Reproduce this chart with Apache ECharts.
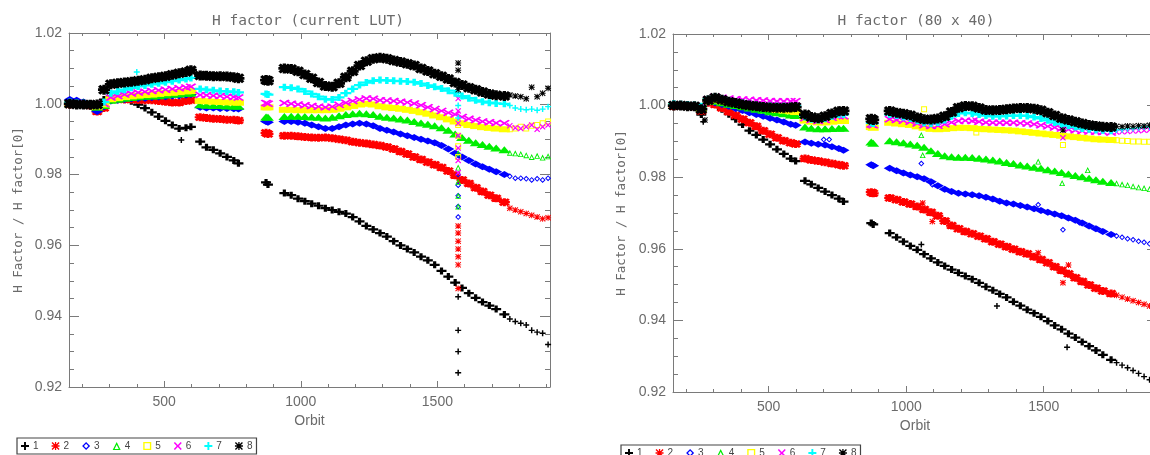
<!DOCTYPE html>
<html>
<head>
<meta charset="utf-8">
<script src="https://cdn.jsdelivr.net/npm/echarts@6/dist/echarts.min.js"></script>
<style>
  html, body { margin: 0; padding: 0; background: #ffffff; }
  #chart { width: 1150px; height: 455px; }
</style>
</head>
<body>
<div id="chart"></div>
<script>
// Orbits at which the H factor ratio was evaluated (shared by all eight series)
const orbits = [
  155, 180, 205, 230, 255, 280, 305, 330, 355, 380, 405, 430, 455, 480, 505, 530, 555, 580, 598,
  632, 655, 680, 705, 730, 755, 772,
  873, 880,
  940, 965, 990, 1015, 1040, 1065, 1090, 1115, 1140, 1165, 1190, 1215, 1240, 1265, 1290, 1315, 1340,
  1365, 1390, 1415, 1440, 1465, 1490, 1515, 1540, 1565, 1590, 1615, 1640, 1665, 1690, 1715, 1745,
  1765, 1785, 1805, 1825, 1845, 1865, 1885, 1905
];
// Orbits after this value are only sampled occasionally
const sparseAfter = 1750;

const seriesNames = ['1', '2', '3', '4', '5', '6', '7', '8'];

// ---- H factor / H factor[0], current LUT ----
const cur1 = [
  1.0000, 1.0000, 0.9998, 0.9997, 0.9980, 1.0012, 1.0020, 1.0018, 1.0015, 1.0007, 0.9998, 0.9988, 0.9976, 0.9964, 0.9952, 0.9940, 0.9930, 0.9932, 0.9935,
  0.9893, 0.9877, 0.9870, 0.9860, 0.9850, 0.9840, 0.9832,
  0.9778, 0.9772,
  0.9748, 0.9742, 0.9732, 0.9725, 0.9718, 0.9712, 0.9705, 0.9700, 0.9695, 0.9690, 0.9680, 0.9668, 0.9655, 0.9645, 0.9635, 0.9625, 0.9612,
  0.9600, 0.9590, 0.9580, 0.9568, 0.9558, 0.9545, 0.9528, 0.9512, 0.9495, 0.9480, 0.9465, 0.9452, 0.9440, 0.9430, 0.9420, 0.9405,
  0.9392, 0.9385, 0.9380, 0.9375, 0.9360, 0.9355, 0.9352, 0.9320
];
const cur2 = [
  0.9998, 1.0000, 1.0000, 0.9995, 0.9978, 0.9988, 1.0012, 1.0013, 1.0012, 1.0012, 1.0011, 1.0010, 1.0010, 1.0008, 1.0006, 1.0004, 1.0004, 1.0008, 1.0010,
  0.9962, 0.9960, 0.9958, 0.9957, 0.9955, 0.9955, 0.9953,
  0.9918, 0.9915,
  0.9910, 0.9910, 0.9908, 0.9906, 0.9905, 0.9904, 0.9905, 0.9903, 0.9900, 0.9897, 0.9893, 0.9890, 0.9888, 0.9885, 0.9882, 0.9878, 0.9872,
  0.9865, 0.9858, 0.9850, 0.9843, 0.9835, 0.9828, 0.9820, 0.9810, 0.9798, 0.9785, 0.9775, 0.9763, 0.9752, 0.9742, 0.9733, 0.9722,
  0.9705, 0.9700, 0.9695, 0.9690, 0.9685, 0.9680, 0.9675, 0.9678
];
const cur3 = [
  1.0012, 1.0010, 1.0005, 1.0000, 0.9978, 0.9992, 1.0008, 1.0010, 1.0012, 1.0014, 1.0015, 1.0016, 1.0018, 1.0019, 1.0020, 1.0022, 1.0023, 1.0025, 1.0026,
  0.9990, 0.9988, 0.9988, 0.9987, 0.9987, 0.9986, 0.9985,
  0.9950, 0.9948,
  0.9950, 0.9950, 0.9948, 0.9945, 0.9940, 0.9935, 0.9930, 0.9930, 0.9935, 0.9940, 0.9943, 0.9945, 0.9943, 0.9938, 0.9930, 0.9925, 0.9920,
  0.9915, 0.9910, 0.9905, 0.9900, 0.9895, 0.9890, 0.9882, 0.9872, 0.9860, 0.9850, 0.9840, 0.9830, 0.9822, 0.9815, 0.9808, 0.9800,
  0.9795, 0.9790, 0.9790, 0.9788, 0.9785, 0.9788, 0.9785, 0.9790
];
const cur4 = [
  1.0000, 1.0002, 1.0000, 0.9998, 0.9990, 0.9995, 1.0010, 1.0013, 1.0016, 1.0018, 1.0020, 1.0021, 1.0022, 1.0023, 1.0025, 1.0027, 1.0028, 1.0030, 1.0030,
  0.9997, 0.9996, 0.9995, 0.9995, 0.9994, 0.9994, 0.9993,
  0.9963, 0.9962,
  0.9964, 0.9965, 0.9965, 0.9964, 0.9963, 0.9962, 0.9960, 0.9962, 0.9966, 0.9970, 0.9972, 0.9973, 0.9972, 0.9970, 0.9965, 0.9962, 0.9960,
  0.9957, 0.9954, 0.9950, 0.9946, 0.9942, 0.9938, 0.9932, 0.9925, 0.9915, 0.9905, 0.9897, 0.9890, 0.9885, 0.9880, 0.9875, 0.9870,
  0.9862, 0.9860, 0.9858, 0.9855, 0.9850, 0.9853, 0.9848, 0.9852
];
const cur5 = [
  1.0000, 1.0000, 1.0000, 0.9998, 0.9992, 0.9998, 1.0013, 1.0016, 1.0019, 1.0021, 1.0023, 1.0025, 1.0026, 1.0028, 1.0030, 1.0031, 1.0033, 1.0035, 1.0036,
  1.0008, 1.0007, 1.0006, 1.0005, 1.0004, 1.0004, 1.0003,
  0.9990, 0.9990,
  0.9983, 0.9983, 0.9982, 0.9982, 0.9982, 0.9982, 0.9982, 0.9983, 0.9986, 0.9990, 0.9994, 0.9998, 1.0000, 0.9998, 0.9993, 0.9990, 0.9988,
  0.9986, 0.9983, 0.9980, 0.9976, 0.9972, 0.9967, 0.9962, 0.9956, 0.9950, 0.9945, 0.9940, 0.9937, 0.9934, 0.9932, 0.9930, 0.9928,
  0.9928, 0.9930, 0.9935, 0.9930, 0.9938, 0.9940, 0.9945, 0.9950
];
const cur6 = [
  1.0000, 1.0002, 1.0000, 0.9998, 0.9995, 1.0000, 1.0018, 1.0022, 1.0026, 1.0029, 1.0032, 1.0034, 1.0036, 1.0038, 1.0040, 1.0042, 1.0044, 1.0046, 1.0048,
  1.0025, 1.0024, 1.0023, 1.0022, 1.0020, 1.0019, 1.0018,
  1.0002, 1.0000,
  1.0002, 1.0000, 0.9998, 0.9996, 0.9994, 0.9992, 0.9990, 0.9992, 0.9997, 1.0003, 1.0008, 1.0012, 1.0015, 1.0014, 1.0010, 1.0009, 1.0008,
  1.0006, 1.0004, 1.0001, 0.9996, 0.9990, 0.9985, 0.9980, 0.9975, 0.9970, 0.9963, 0.9958, 0.9954, 0.9950, 0.9948, 0.9946, 0.9945,
  0.9938, 0.9932, 0.9930, 0.9935, 0.9940, 0.9928, 0.9935, 0.9940
];
const cur7 = [
  1.0005, 1.0003, 1.0002, 1.0000, 0.9995, 1.0005, 1.0030, 1.0035, 1.0040, 1.0045, 1.0049, 1.0052, 1.0055, 1.0058, 1.0061, 1.0064, 1.0067, 1.0070, 1.0073,
  1.0042, 1.0040, 1.0038, 1.0036, 1.0035, 1.0034, 1.0032,
  1.0028, 1.0026,
  1.0047, 1.0045, 1.0042, 1.0035, 1.0028, 1.0020, 1.0013, 1.0012, 1.0018, 1.0030, 1.0042, 1.0053, 1.0060, 1.0065, 1.0067, 1.0066, 1.0065,
  1.0064, 1.0063, 1.0061, 1.0057, 1.0052, 1.0048, 1.0043, 1.0037, 1.0030, 1.0022, 1.0016, 1.0010, 1.0006, 1.0003, 1.0001, 1.0000,
  0.9995, 0.9988, 0.9985, 0.9983, 0.9985, 0.9982, 0.9985, 0.9992
];
const cur8 = [
  1.0000, 0.9998, 0.9998, 0.9997, 0.9998, 1.0040, 1.0055, 1.0058, 1.0060, 1.0062, 1.0065, 1.0068, 1.0072, 1.0075, 1.0078, 1.0082, 1.0086, 1.0090, 1.0095,
  1.0080, 1.0079, 1.0078, 1.0078, 1.0077, 1.0075, 1.0072,
  1.0067, 1.0065,
  1.0100, 1.0098, 1.0092, 1.0083, 1.0072, 1.0060, 1.0050, 1.0048, 1.0058, 1.0075, 1.0092, 1.0108, 1.0120, 1.0127, 1.0130, 1.0127, 1.0122,
  1.0118, 1.0113, 1.0108, 1.0100, 1.0093, 1.0085, 1.0078, 1.0070, 1.0060, 1.0053, 1.0045, 1.0040, 1.0033, 1.0028, 1.0024, 1.0022,
  1.0025, 1.0022, 1.0020, 1.0014, 1.0047, 1.0020, 1.0030, 1.0044
];
// Isolated records [orbit, ratio], current LUT
const curExtra1 = [[563, 0.9898], [1576, 0.9455], [1576, 0.9360], [1576, 0.9300], [1576, 0.9240]];
const curExtra2 = [[1576, 0.9655], [1576, 0.9635], [1576, 0.9612], [1576, 0.9590], [1576, 0.9568], [1576, 0.9545], [1576, 0.9478]];
const curExtra3 = [[1576, 0.9800], [1576, 0.9770], [1576, 0.9740], [1576, 0.9710], [1576, 0.9680]];
const curExtra4 = [[1576, 0.9860], [1576, 0.9820], [1576, 0.9780], [1576, 0.9740], [1576, 0.9710]];
const curExtra5 = [[1576, 0.9940], [1576, 0.9910], [1576, 0.9880], [1576, 0.9850]];
const curExtra6 = [[1576, 1.0015], [1576, 0.9980], [1576, 0.9945], [1576, 0.9910], [1576, 0.9875], [1576, 0.9840], [1576, 0.9805]];
const curExtra7 = [[400, 1.0090], [1576, 1.0030], [1576, 0.9995], [1576, 0.9960]];
const curExtra8 = [[1576, 1.0115], [1576, 1.0095], [1576, 1.0040]];

// ---- H factor / H factor[0], 80 x 40 ----
const g80_1 = [
  1.0000, 1.0000, 0.9998, 0.9995, 0.9975, 1.0012, 1.0005, 0.9990, 0.9976, 0.9962, 0.9947, 0.9930, 0.9918, 0.9905, 0.9892, 0.9878, 0.9865, 0.9852, 0.9845,
  0.9790, 0.9780, 0.9770, 0.9760, 0.9750, 0.9740, 0.9732,
  0.9672, 0.9668,
  0.9644, 0.9632, 0.9620, 0.9608, 0.9597, 0.9585, 0.9573, 0.9562, 0.9552, 0.9542, 0.9533, 0.9524, 0.9515, 0.9505, 0.9494, 0.9484, 0.9474,
  0.9464, 0.9452, 0.9441, 0.9430, 0.9420, 0.9410, 0.9398, 0.9386, 0.9375, 0.9363, 0.9352, 0.9340, 0.9328, 0.9316, 0.9304, 0.9290,
  0.9282, 0.9275, 0.9268, 0.9260, 0.9252, 0.9243, 0.9234, 0.9225
];
const g80_2 = [
  0.9998, 1.0000, 0.9998, 0.9996, 0.9985, 1.0008, 1.0003, 0.9993, 0.9983, 0.9973, 0.9962, 0.9952, 0.9942, 0.9930, 0.9920, 0.9910, 0.9902, 0.9896, 0.9893,
  0.9852, 0.9848, 0.9845, 0.9842, 0.9838, 0.9835, 0.9832,
  0.9758, 0.9755,
  0.9742, 0.9737, 0.9731, 0.9725, 0.9718, 0.9710, 0.9702, 0.9692, 0.9678, 0.9665, 0.9656, 0.9648, 0.9642, 0.9635, 0.9628, 0.9620, 0.9613,
  0.9606, 0.9599, 0.9592, 0.9586, 0.9578, 0.9570, 0.9561, 0.9550, 0.9540, 0.9530, 0.9519, 0.9509, 0.9499, 0.9490, 0.9482, 0.9475,
  0.9470, 0.9465, 0.9460, 0.9455, 0.9450, 0.9445, 0.9440, 0.9435
];
const g80_3 = [
  1.0000, 1.0002, 1.0000, 0.9998, 0.9990, 1.0010, 1.0008, 1.0003, 0.9998, 0.9992, 0.9986, 0.9980, 0.9975, 0.9970, 0.9965, 0.9960, 0.9954, 0.9948, 0.9945,
  0.9898, 0.9895, 0.9892, 0.9890, 0.9885, 0.9880, 0.9875,
  0.9835, 0.9832,
  0.9825, 0.9818, 0.9812, 0.9806, 0.9801, 0.9796, 0.9787, 0.9776, 0.9766, 0.9760, 0.9755, 0.9753, 0.9751, 0.9748, 0.9744, 0.9739, 0.9733,
  0.9728, 0.9725, 0.9721, 0.9717, 0.9712, 0.9707, 0.9702, 0.9697, 0.9692, 0.9686, 0.9680, 0.9672, 0.9664, 0.9656, 0.9648, 0.9640,
  0.9636, 0.9632, 0.9628, 0.9625, 0.9621, 0.9618, 0.9614, 0.9610
];
const g80_4 = [
  1.0000, 1.0000, 1.0000, 0.9998, 0.9993, 1.0012, 1.0012, 1.0008, 1.0004, 1.0000, 0.9997, 0.9993, 0.9990, 0.9987, 0.9983, 0.9980, 0.9977, 0.9974, 0.9972,
  0.9940, 0.9937, 0.9935, 0.9935, 0.9936, 0.9937, 0.9937,
  0.9898, 0.9895,
  0.9902, 0.9899, 0.9896, 0.9893, 0.9889, 0.9884, 0.9874, 0.9866, 0.9860, 0.9857, 0.9856, 0.9856, 0.9855, 0.9853, 0.9851, 0.9848, 0.9845,
  0.9841, 0.9838, 0.9834, 0.9831, 0.9828, 0.9825, 0.9821, 0.9817, 0.9813, 0.9809, 0.9805, 0.9801, 0.9797, 0.9793, 0.9789, 0.9785,
  0.9783, 0.9780, 0.9778, 0.9775, 0.9772, 0.9770, 0.9767, 0.9764
];
const g80_5 = [
  1.0000, 1.0000, 1.0000, 0.9998, 0.9995, 1.0012, 1.0015, 1.0012, 1.0009, 1.0006, 1.0003, 1.0000, 0.9997, 0.9994, 0.9991, 0.9988, 0.9986, 0.9984, 0.9982,
  0.9958, 0.9955, 0.9953, 0.9953, 0.9955, 0.9957, 0.9957,
  0.9940, 0.9938,
  0.9952, 0.9950, 0.9948, 0.9946, 0.9942, 0.9938, 0.9935, 0.9934, 0.9935, 0.9937, 0.9938, 0.9938, 0.9937, 0.9935, 0.9934, 0.9933, 0.9932,
  0.9931, 0.9930, 0.9928, 0.9926, 0.9924, 0.9922, 0.9920, 0.9918, 0.9916, 0.9914, 0.9912, 0.9910, 0.9908, 0.9906, 0.9905, 0.9904,
  0.9903, 0.9902, 0.9901, 0.9900, 0.9900, 0.9899, 0.9899, 0.9898
];
const g80_6 = [
  1.0002, 1.0002, 1.0001, 1.0000, 0.9998, 1.0018, 1.0025, 1.0022, 1.0020, 1.0018, 1.0017, 1.0016, 1.0015, 1.0014, 1.0013, 1.0012, 1.0012, 1.0012, 1.0012,
  0.9965, 0.9960, 0.9957, 0.9960, 0.9966, 0.9970, 0.9970,
  0.9947, 0.9945,
  0.9962, 0.9960, 0.9958, 0.9955, 0.9950, 0.9945, 0.9943, 0.9944, 0.9948, 0.9953, 0.9957, 0.9958, 0.9957, 0.9955, 0.9953, 0.9952, 0.9952,
  0.9952, 0.9952, 0.9951, 0.9950, 0.9948, 0.9945, 0.9942, 0.9939, 0.9936, 0.9933, 0.9931, 0.9929, 0.9928, 0.9927, 0.9926, 0.9925,
  0.9926, 0.9927, 0.9928, 0.9929, 0.9930, 0.9931, 0.9932, 0.9933
];
const g80_7 = [
  1.0005, 1.0004, 1.0003, 1.0002, 0.9998, 1.0018, 1.0024, 1.0019, 1.0014, 1.0010, 1.0007, 1.0004, 1.0002, 1.0000, 0.9999, 0.9998, 0.9998, 0.9998, 0.9999,
  0.9968, 0.9962, 0.9960, 0.9963, 0.9970, 0.9975, 0.9975,
  0.9952, 0.9950,
  0.9975, 0.9972, 0.9968, 0.9964, 0.9958, 0.9952, 0.9950, 0.9953, 0.9960, 0.9970, 0.9978, 0.9980, 0.9978, 0.9975, 0.9972, 0.9970, 0.9970,
  0.9971, 0.9972, 0.9972, 0.9971, 0.9968, 0.9964, 0.9959, 0.9953, 0.9948, 0.9944, 0.9940, 0.9936, 0.9934, 0.9932, 0.9931, 0.9930,
  0.9932, 0.9933, 0.9935, 0.9936, 0.9938, 0.9940, 0.9941, 0.9943
];
const g80_8 = [
  1.0000, 1.0000, 0.9998, 0.9998, 0.9990, 1.0015, 1.0022, 1.0016, 1.0011, 1.0007, 1.0003, 1.0000, 0.9998, 0.9996, 0.9995, 0.9994, 0.9994, 0.9995, 0.9996,
  0.9975, 0.9968, 0.9965, 0.9970, 0.9978, 0.9984, 0.9985,
  0.9963, 0.9960,
  0.9985, 0.9980, 0.9977, 0.9973, 0.9967, 0.9962, 0.9961, 0.9964, 0.9970, 0.9982, 0.9994, 0.9999, 0.9998, 0.9993, 0.9988, 0.9987, 0.9988,
  0.9990, 0.9992, 0.9993, 0.9993, 0.9991, 0.9987, 0.9980, 0.9972, 0.9965, 0.9960, 0.9955, 0.9950, 0.9946, 0.9943, 0.9941, 0.9940,
  0.9942, 0.9941, 0.9943, 0.9942, 0.9944, 0.9943, 0.9945, 0.9946
];
// Isolated records [orbit, ratio], 80 x 40
const g80Extra1 = [[262, 0.9955], [1055, 0.9612], [1330, 0.9440], [1585, 0.9325]];
const g80Extra2 = [[1060, 0.9728], [1095, 0.9676], [1480, 0.9589], [1570, 0.9505], [1590, 0.9555]];
const g80Extra3 = [[700, 0.9905], [720, 0.9905], [1055, 0.9838], [1095, 0.9779], [1480, 0.9723], [1570, 0.9653], [1630, 0.9673]];
const g80Extra4 = [[1055, 0.9918], [1060, 0.9862], [1480, 0.9844], [1567, 0.9784], [1660, 0.9820]];
const g80Extra5 = [[1065, 0.9990], [1255, 0.9925], [1570, 0.9890]];
const g80Extra6 = [[1250, 0.9960], [1570, 0.9910]];
const g80Extra7 = [[1250, 0.9985]];
const g80Extra8 = [[268, 0.9960], [1570, 0.9932]];

// Axis ranges and tick positions
const xRange = [152, 1912];
const yRange = [0.92, 1.02];
const xMajorTicks = [500, 1000, 1500];
const xMinorTicks = [200, 300, 400, 600, 700, 800, 900, 1100, 1200, 1300, 1400, 1600, 1700, 1800, 1900];
const yMajorTicks = [0.92, 0.94, 0.96, 0.98, 1.00, 1.02];
const yMinorTicks = [0.925, 0.93, 0.935, 0.945, 0.95, 0.955, 0.965, 0.97, 0.975, 0.985, 0.99, 0.995, 1.005, 1.01, 1.015];

const titles = ['H factor (current LUT)', 'H factor (80 x 40)'];
const yTitle = 'H Factor / H factor[0]';
const xTitle = 'Orbit';

// ---- marker shapes (10 x 10 boxes) ----
const PLUS = 'path://M3.8,0L6.2,0L6.2,3.8L10,3.8L10,6.2L6.2,6.2L6.2,10L3.8,10L3.8,6.2L0,6.2L0,3.8L3.8,3.8Z';
const PLUS_BOLD = 'path://M3.4,0L6.6,0L6.6,3.4L10,3.4L10,6.6L6.6,6.6L6.6,10L3.4,10L3.4,6.6L0,6.6L0,3.4L3.4,3.4Z';
const CROSS = 'path://M0,1.4L1.4,0L5,3.6L8.6,0L10,1.4L6.4,5L10,8.6L8.6,10L5,6.4L1.4,10L0,8.6L3.6,5Z';
const STAR = 'path://M4.2,0L5.8,0L5.8,10L4.2,10Z M0,4.2L10,4.2L10,5.8L0,5.8Z M0,1.2L1.2,0L5,3.8L8.8,0L10,1.2L6.2,5L10,8.8L8.8,10L5,6.2L1.2,10L0,8.8L3.8,5Z';
const STAR_BOLD = 'path://M3.6,0L6.4,0L6.4,10L3.6,10Z M0,3.6L10,3.6L10,6.4L0,6.4Z M0,2L2,0L5,3L8,0L10,2L7,5L10,8L8,10L5,7L2,10L0,8L3,5Z';
const DIAMOND = 'path://M5,0L10,5L5,10L0,5Z';
const DIAMOND_O = 'path://M5,0L10,5L5,10L0,5Z M5,2.3L2.3,5L5,7.7L7.7,5Z';
const TRIANGLE = 'path://M5,0L10,10L0,10Z';
const TRIANGLE_O = 'path://M5,0L10,10L0,10Z M5,3.4L2.4,8.7L7.6,8.7Z';
const SQUARE = 'path://M0,0L10,0L10,10L0,10Z';
const SQUARE_O = 'path://M0,0L10,0L10,10L0,10Z M1.7,1.7L1.7,8.3L8.3,8.3L8.3,1.7Z';

const colors = ['#000000', '#ff0000', '#0000ff', '#00ee00', '#ffff00', '#ff00ff', '#00ffff', '#000000'];
const denseShape = [PLUS_BOLD, STAR_BOLD, DIAMOND, TRIANGLE, SQUARE, CROSS, PLUS_BOLD, STAR_BOLD];
const openShape = [PLUS, STAR, DIAMOND_O, TRIANGLE_O, SQUARE_O, CROSS, PLUS, STAR];
const denseSize = [[10, 7], [11, 8], [12, 7], [12, 7], [11, 6], [11, 7], [11, 7], [12, 10]];
const openSize = 6;

const textColor = '#6b6b6b';
const axisColor = '#7a7a7a';
const labelFont = 'Liberation Sans';
const titleFont = 'DejaVu Sans Mono';

const panels = [
  { values: [cur1, cur2, cur3, cur4, cur5, cur6, cur7, cur8],
    extras: [curExtra1, curExtra2, curExtra3, curExtra4, curExtra5, curExtra6, curExtra7, curExtra8] },
  { values: [g80_1, g80_2, g80_3, g80_4, g80_5, g80_6, g80_7, g80_8],
    extras: [g80Extra1, g80Extra2, g80Extra3, g80Extra4, g80Extra5, g80Extra6, g80Extra7, g80Extra8] }
];

const grids = [
  { left: 69, right: 600, top: 33, bottom: 68 },
  { left: 673, right: -7, top: 34, bottom: 63 }
];

// Box frame: labelled bottom/left axes plus mirrored top/right ticks, each with a minor-tick overlay
function xAxesFor(g) {
  const base = { gridIndex: g, type: 'value', min: xRange[0], max: xRange[1], splitLine: { show: false } };
  const line = { show: true, lineStyle: { color: axisColor, width: 1 } };
  const tickStyle = { color: axisColor, width: 1 };
  return [
    Object.assign({}, base, {
      position: 'bottom', axisLine: line,
      axisTick: { show: true, inside: true, length: 6, customValues: xMajorTicks, lineStyle: tickStyle },
      axisLabel: { show: true, customValues: xMajorTicks, margin: 8, fontSize: 14, color: textColor, fontFamily: labelFont,
                   formatter: v => String(Math.round(v)) },
      name: xTitle, nameLocation: 'middle', nameGap: 22,
      nameTextStyle: { fontSize: 14, color: textColor, fontFamily: labelFont }
    }),
    Object.assign({}, base, {
      position: 'bottom', axisLine: { show: false },
      axisTick: { show: true, inside: true, length: 3, customValues: xMinorTicks, lineStyle: tickStyle },
      axisLabel: { show: false }
    }),
    Object.assign({}, base, {
      position: 'top', axisLine: line,
      axisTick: { show: true, inside: true, length: 6, customValues: xMajorTicks, lineStyle: tickStyle },
      axisLabel: { show: false }
    }),
    Object.assign({}, base, {
      position: 'top', axisLine: { show: false },
      axisTick: { show: true, inside: true, length: 3, customValues: xMinorTicks, lineStyle: tickStyle },
      axisLabel: { show: false }
    })
  ];
}
function yAxesFor(g) {
  const base = { gridIndex: g, type: 'value', min: yRange[0], max: yRange[1], splitLine: { show: false } };
  const line = { show: true, lineStyle: { color: axisColor, width: 1 } };
  const tickStyle = { color: axisColor, width: 1 };
  return [
    Object.assign({}, base, {
      position: 'left', axisLine: line,
      axisTick: { show: true, inside: true, length: 10, customValues: yMajorTicks, lineStyle: tickStyle },
      axisLabel: { show: true, customValues: yMajorTicks, margin: 7, fontSize: 14, color: textColor, fontFamily: labelFont,
                   formatter: v => Number(v).toFixed(2) }
    }),
    Object.assign({}, base, {
      position: 'left', axisLine: { show: false },
      axisTick: { show: true, inside: true, length: 5, customValues: yMinorTicks, lineStyle: tickStyle },
      axisLabel: { show: false }
    }),
    Object.assign({}, base, {
      position: 'right', axisLine: line,
      axisTick: { show: true, inside: true, length: 10, customValues: yMajorTicks, lineStyle: tickStyle },
      axisLabel: { show: false }
    }),
    Object.assign({}, base, {
      position: 'right', axisLine: { show: false },
      axisTick: { show: true, inside: true, length: 5, customValues: yMinorTicks, lineStyle: tickStyle },
      axisLabel: { show: false }
    })
  ];
}

// Scatter series: densely sampled stretches drawn with solid markers, sparse/isolated ones with open markers
const series = [];
panels.forEach((panel, p) => {
  panel.values.forEach((vals, k) => {
    const data = orbits.map((o, i) => {
      const dense = o <= sparseAfter;
      return {
        value: [o, vals[i]],
        symbol: dense ? denseShape[k] : openShape[k],
        symbolSize: dense ? denseSize[k] : openSize
      };
    });
    panel.extras[k].forEach(pt => {
      data.push({ value: [pt[0], pt[1]], symbol: openShape[k], symbolSize: openSize });
    });
    series.push({
      type: 'scatter',
      name: seriesNames[k],
      xAxisIndex: p * 4,
      yAxisIndex: p * 4,
      symbol: openShape[k],
      symbolKeepAspect: false,
      itemStyle: { color: colors[k], opacity: 1 },
      emphasis: { disabled: true },
      silent: true,
      data: data
    });
  });
});

const legendData = seriesNames.map((n, k) => ({ name: n, icon: openShape[k] }));
function legendAt(left, top) {
  return {
    left: left, top: top, orient: 'horizontal',
    data: legendData,
    itemWidth: 8, itemHeight: 8, itemGap: 13,
    padding: [3, 4],
    borderColor: '#444444', borderWidth: 1.2, borderRadius: 0,
    backgroundColor: '#ffffff',
    selectedMode: false,
    textStyle: { fontSize: 10, color: '#444444', fontFamily: labelFont, padding: [0, 0, 0, -1] }
  };
}

const chart = echarts.init(document.getElementById('chart'), null, { renderer: 'canvas' });
chart.setOption({
  animation: false,
  backgroundColor: '#ffffff',
  textStyle: { fontFamily: labelFont },
  grid: grids.map(g => Object.assign({ containLabel: false, outerBoundsMode: 'none' }, g)),
  xAxis: xAxesFor(0).concat(xAxesFor(1)),
  yAxis: yAxesFor(0).concat(yAxesFor(1)),
  legend: [legendAt(17, 438), legendAt(621, 445)],
  series: series,
  graphic: [
    { type: 'text', x: 308, y: 21, silent: true,
      style: { text: titles[0], fill: textColor, fontSize: 14.5, fontFamily: titleFont,
               align: 'center', verticalAlign: 'middle', textAlign: 'center', textVerticalAlign: 'middle' } },
    { type: 'text', x: 916, y: 21, silent: true,
      style: { text: titles[1], fill: textColor, fontSize: 14.5, fontFamily: titleFont,
               align: 'center', verticalAlign: 'middle', textAlign: 'center', textVerticalAlign: 'middle' } },
    { type: 'text', x: 19, y: 210, rotation: Math.PI / 2, silent: true,
      style: { text: yTitle, fill: textColor, fontSize: 12.5, fontFamily: titleFont,
               align: 'center', verticalAlign: 'middle', textAlign: 'center', textVerticalAlign: 'middle' } },
    { type: 'text', x: 622, y: 213, rotation: Math.PI / 2, silent: true,
      style: { text: yTitle, fill: textColor, fontSize: 12.5, fontFamily: titleFont,
               align: 'center', verticalAlign: 'middle', textAlign: 'center', textVerticalAlign: 'middle' } }
  ]
});
</script>
</body>
</html>
